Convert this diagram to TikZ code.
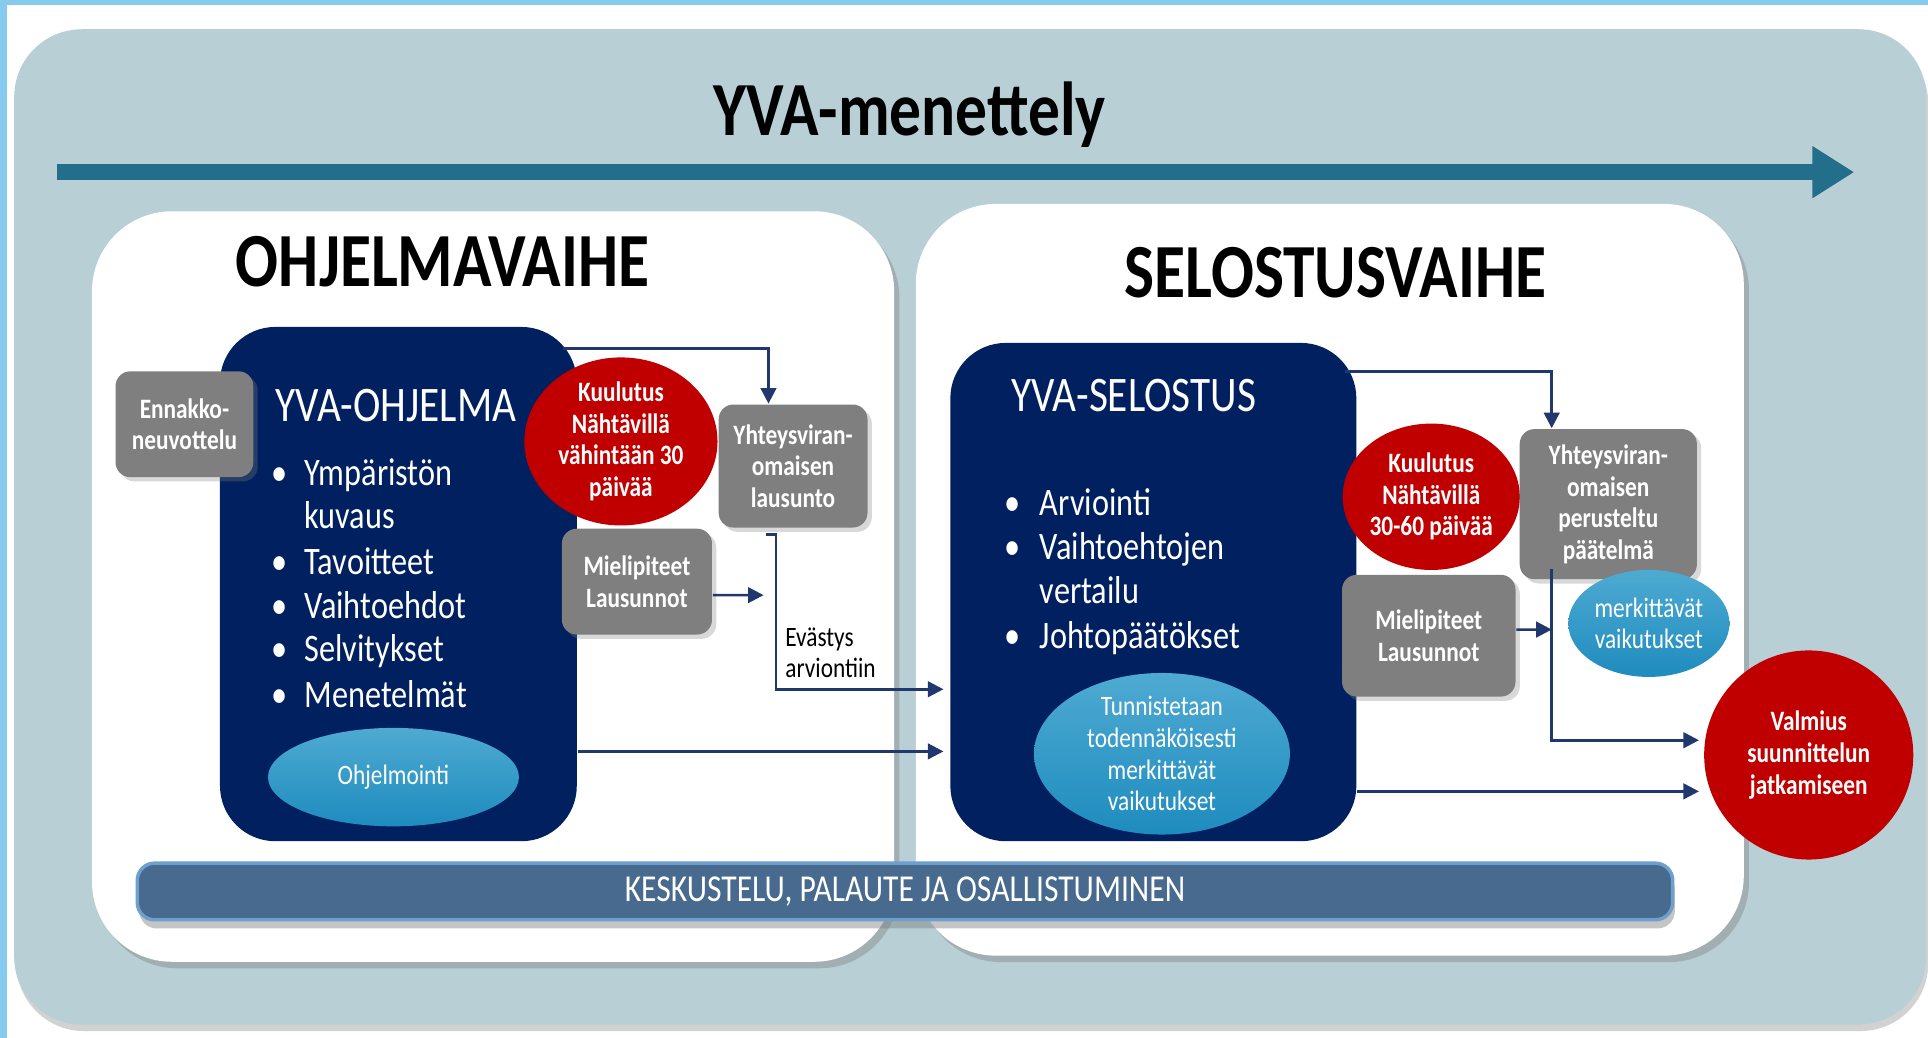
\documentclass[tikz,border=0pt]{standalone}
\usepackage{fontspec}
\setmainfont{Carlito}[FakeStretch=0.83]
\usetikzlibrary{shapes.geometric,arrows.meta,shadows}

\definecolor{frameblue}{RGB}{135,202,240}
\definecolor{panelgrey}{RGB}{184,207,213}
\definecolor{timeteal}{RGB}{35,110,138}
\definecolor{navy}{RGB}{0,32,96}
\definecolor{kred}{RGB}{192,0,0}
\definecolor{boxgray}{RGB}{127,127,127}
\definecolor{ovaltop}{RGB}{78,170,210}
\definecolor{ovalbot}{RGB}{30,140,190}
\definecolor{connblue}{RGB}{32,56,110}
\definecolor{barblue}{RGB}{71,106,142}
\definecolor{baredge}{RGB}{110,160,205}

\newcommand{\headfont}{\fontsize{17.7}{20}\selectfont\bfseries}
\newcommand{\docfont}{\fontsize{11.5}{13}\selectfont}
\newcommand{\itemfont}{\fontsize{9}{10.2}\selectfont}
\newcommand{\boxfont}{\fontsize{6.5}{7.3}\selectfont\bfseries}
\newcommand{\ovalfont}{\fontsize{6.5}{7.3}\selectfont}
\newcommand{\barfont}{\fontsize{8.8}{10}\selectfont}

\begin{document}
\begin{tikzpicture}[x=0.01cm,y=-0.01cm]
        \tikzstyle{backpanel}=[fill=panelgrey,rounded corners=0.55cm,inner sep=0pt,drop shadow={shadow xshift=0.5pt,shadow yshift=-1.5pt,opacity=.35}]
        \tikzstyle{stage}=[fill=white,rounded corners=0.65cm,inner sep=0pt,drop shadow={shadow xshift=1.2pt,shadow yshift=-1.5pt,opacity=.4}]
        \tikzstyle{timeline}=[draw=timeteal,line width=3.7pt,-{Triangle[length=9.7pt,width=11.4pt]}]
        \tikzstyle{docbox}=[fill=navy,rounded corners=0.45cm,inner sep=0pt]
        \tikzstyle{doctitle}=[text=white,font=\docfont,anchor=base]
        \tikzstyle{item}=[text=white,font=\itemfont,anchor=base west,inner sep=0pt]
        \tikzstyle{graybox}=[fill=boxgray,rounded corners=0.12cm,text=white,font=\boxfont,align=center,inner sep=0pt,drop shadow={shadow xshift=1pt,shadow yshift=-1pt,opacity=.3}]
        \tikzstyle{kuulutus}=[ellipse,fill=kred,text=white,font=\boxfont,align=center,inner sep=0pt]
        \tikzstyle{oval}=[ellipse,top color=ovaltop,bottom color=ovalbot,text=white,font=\ovalfont,align=center,inner sep=0pt]
        \tikzstyle{bar}=[fill=barblue,draw=baredge,line width=0.8pt,rounded corners=0.14cm,text=white,font=\barfont,inner sep=0pt,drop shadow={shadow xshift=0.5pt,shadow yshift=-2pt,opacity=.45}]
        \tikzstyle{conn}=[draw=connblue,line width=0.6pt,-{Triangle[length=3.6pt,width=3.6pt]}]

        \useasboundingbox (0,0) rectangle (1568,844);
        \fill[white] (0,0) rectangle (1568,844);
        \fill[frameblue] (0,0) rectangle (1568,4);
        \fill[frameblue] (0,0) rectangle (6,844);

        \node[backpanel,minimum width=15.54cm,minimum height=8.09cm] (panel) at (789,428.5) {};
        \node[font=\headfont,anchor=base] (title) at (740,110) {YVA-menettely};
        \coordinate (tstart) at (46,140);
        \coordinate (tend) at (1508,140);
        \draw[timeline] (tstart) -- (tend);

        \node[stage,minimum width=6.52cm,minimum height=6.10cm] (ohjvaihe) at (401,477) {};
        \node[stage,minimum width=6.73cm,minimum height=6.11cm] (selvaihe) at (1081.5,471.5) {};
        \node[font=\headfont,anchor=base] (ohjtitle) at (360,233) {OHJELMAVAIHE};
        \node[font=\headfont,anchor=base] (seltitle) at (1086,242) {SELOSTUSVAIHE};

        \node[bar,minimum width=12.48cm,minimum height=0.46cm] (keskustelu) at (736,725) {KESKUSTELU, PALAUTE JA OSALLISTUMINEN};

        \node[docbox,minimum width=2.90cm,minimum height=4.18cm] (ohjbox) at (324,475) {};
        \node[docbox,minimum width=3.30cm,minimum height=4.05cm] (selbox) at (938,481.5) {};
        \node[doctitle] (ohjname) at (322,343) {YVA-OHJELMA};
        \node[doctitle] (selname) at (922,335) {YVA-SELOSTUS};

        \foreach \yy/\txt [count=\i] in {395/Ympäristön,430/kuvaus,467/Tavoitteet,503/Vaihtoehdot,538/Selvitykset,575/Menetelmät}
          \node[item] (ohjitem\i) at (247,\yy) {\txt};
        \foreach \yy [count=\i] in {395,467,503,538,575}
          \node[item] (ohjdot\i) at (220,\yy) {\textbullet};
        \foreach \yy/\txt [count=\i] in {419/Arviointi,455/Vaihtoehtojen,491/vertailu,527/Johtopäätökset}
          \node[item] (selitem\i) at (845,\yy) {\txt};
        \foreach \yy [count=\i] in {419,455,527}
          \node[item] (seldot\i) at (816,\yy) {\textbullet};

        \node[oval,minimum width=2.04cm,minimum height=0.80cm] (ohjelmointi) at (320,632) {Ohjelmointi};
        \node[oval,minimum width=2.08cm,minimum height=1.19cm] (tunnistetaan) at (945,613) {Tunnistetaan\\todennäköisesti\\merkittävät\\vaikutukset};

        \node[graybox,minimum width=1.12cm,minimum height=0.86cm] (ennakko) at (150,345) {Ennakko-\\neuvottelu};
        \node[kuulutus,minimum width=1.57cm,minimum height=1.26cm] (kuulL) at (505,359) {Kuulutus\\Nähtävillä\\vähintään 30\\päivää};
        \node[graybox,minimum width=1.21cm,minimum height=1.00cm] (yhtL) at (645,379) {Yhteysviran-\\omaisen\\lausunto};
        \node[graybox,minimum width=1.22cm,minimum height=0.86cm] (mielL) at (518,473) {Mielipiteet\\Lausunnot};
        \node[anchor=west,align=left,font=\ovalfont,inner sep=0pt] (evastys) at (638,531) {Evästys\\arviontiin};

        \node[kuulutus,minimum width=1.44cm,minimum height=1.19cm] (kuulR) at (1164,404) {Kuulutus\\Nähtävillä\\30-60 päivää};
        \node[graybox,minimum width=1.44cm,minimum height=1.22cm] (yhtR) at (1308,410) {Yhteysviran-\\omaisen\\perusteltu\\päätelmä};
        \node[oval,minimum width=1.31cm,minimum height=0.87cm] (merk) at (1341,507) {merkittävät\\vaikutukset};
        \node[graybox,minimum width=1.41cm,minimum height=0.99cm] (mielR) at (1162,517) {Mielipiteet\\Lausunnot};
        \node[kuulutus,minimum size=1.70cm] (valmius) at (1471,614) {Valmius\\suunnittelun\\jatkamiseen};

        % connectors
        \coordinate (mielLend) at (621,484);
        \coordinate (mielRend) at (1262,512);
        \coordinate (ohjout) at ([yshift=-1.36cm]ohjbox.east);
        \coordinate (selout) at ([yshift=-1.62cm]selbox.east);
        \draw[conn] ([xshift=-0.12cm,yshift=-0.18cm]ohjbox.north east) -| ([xshift=-0.2cm]yhtL.north);
        \draw[conn] ([yshift=-0.11cm]mielL.east) -- (mielLend);
        \draw[conn,shorten >=1.4pt] ([xshift=-0.22cm,yshift=-0.05cm]yhtL.south) -- ++(8,0) |- ([yshift=-0.79cm]selbox.west);
        \draw[conn,shorten >=1.4pt] (ohjout) -- (ohjout -| selbox.west);
        \draw[conn] ([xshift=-0.1cm,yshift=-0.24cm]selbox.north east) -| ([xshift=-0.46cm]yhtR.north);
        \draw[conn] ([yshift=0.05cm]mielR.east) -- (mielRend);
        \draw[conn,shorten >=1pt] ([xshift=-0.46cm,yshift=0.09cm]yhtR.south) |- ([yshift=0.12cm]valmius.west);
        \draw[conn,shorten >=1pt] (selout) -- (selout -| valmius.west);
\end{tikzpicture}
\end{document}
